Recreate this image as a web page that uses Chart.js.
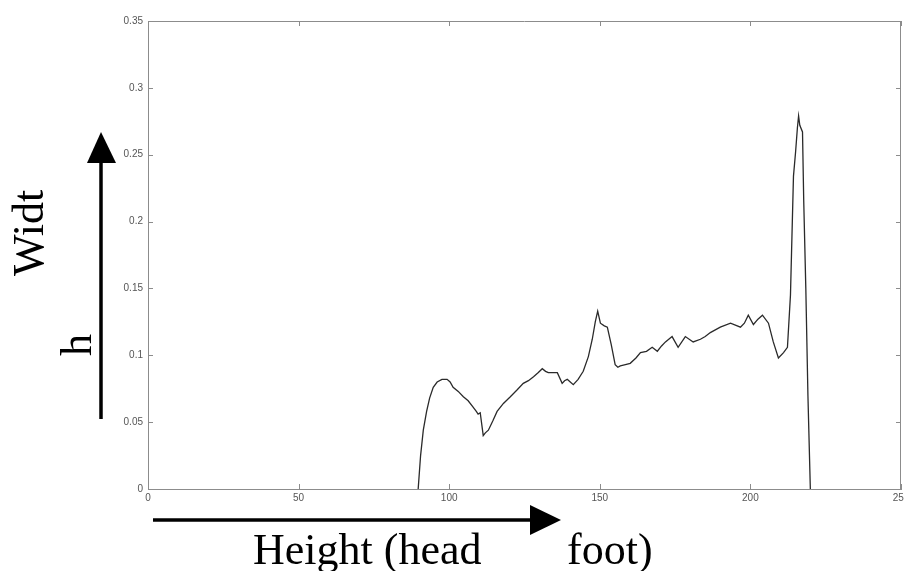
<!DOCTYPE html>
<html>
<head>
<meta charset="utf-8">
<script src="https://cdn.jsdelivr.net/npm/chart.js@4.4.0/dist/chart.umd.min.js"></script>
<style>
  html, body { margin: 0; padding: 0; background: #ffffff; }
  #wrap { width: 904px; height: 571px; position: relative; }
</style>
</head>
<body>
<div id="wrap"><canvas id="c" width="904" height="571"></canvas></div>
<script>
// ---- data ----
const positions = [89.7, 90.5, 91.4, 92.5, 93.5, 94.7, 96, 97.6, 99.3, 100.3, 101.3, 103, 104.7, 106.3, 108, 109, 109.6, 110.3, 111.3, 112, 113, 114.5, 115.9, 118, 120.3, 122.5, 124.6, 126.3, 128, 129.5, 130.9, 132, 132.9, 134.5, 135.9, 137.5, 138.3, 139.2, 140.2, 141.2, 142.8, 144.5, 146.2, 147.5, 148.5, 149.3, 150.2, 151.5, 152.5, 153.8, 155.1, 156, 156.8, 158.5, 160.1, 162, 163.5, 165.5, 167.4, 169.1, 170.5, 171.8, 174, 176, 178.4, 181, 183.4, 185, 186.7, 190, 193.4, 196.7, 198, 199.3, 201, 202.5, 204, 206, 207.6, 209.3, 211, 212.3, 213.3, 214.3, 215, 215.6, 216, 216.4, 217.3, 217.7, 218.4, 219.1, 219.9];
const widths = [0, 0.025, 0.044, 0.058, 0.068, 0.076, 0.080, 0.082, 0.082, 0.080, 0.076, 0.073, 0.069, 0.066, 0.061, 0.058, 0.056, 0.057, 0.040, 0.042, 0.044, 0.051, 0.058, 0.064, 0.069, 0.074, 0.079, 0.081, 0.084, 0.087, 0.090, 0.088, 0.087, 0.087, 0.087, 0.079, 0.081, 0.082, 0.080, 0.078, 0.082, 0.088, 0.099, 0.112, 0.125, 0.133, 0.124, 0.122, 0.121, 0.108, 0.093, 0.091, 0.092, 0.093, 0.094, 0.098, 0.102, 0.103, 0.106, 0.103, 0.107, 0.110, 0.114, 0.106, 0.114, 0.110, 0.112, 0.114, 0.117, 0.121, 0.124, 0.121, 0.124, 0.130, 0.123, 0.127, 0.130, 0.124, 0.110, 0.098, 0.102, 0.106, 0.145, 0.234, 0.252, 0.270, 0.279, 0.272, 0.267, 0.216, 0.150, 0.070, 0];
const xTickValues = [0, 50, 100, 150, 200, 250];
const xTickLabels = ['0', '50', '100', '150', '200', '250'];
const yTickValues = [0, 0.05, 0.1, 0.15, 0.2, 0.25, 0.3, 0.35];
const yTickLabels = ['0', '0.05', '0.1', '0.15', '0.2', '0.25', '0.3', '0.35'];
const yTitleParts = ['Widt', 'h'];
const xTitleParts = ['Height (head', 'foot)'];

const points = positions.map((x, i) => ({ x: x, y: widths[i] }));
const AXIS_COLOR = '#8c8c8c';

const matlabFrame = {
  id: 'matlabFrame',
  afterDatasetsDraw(chart) {
    const ctx = chart.ctx;
    const a = chart.chartArea;
    const xs = chart.scales.x, ys = chart.scales.y;
    ctx.save();
    // box top & right
    ctx.strokeStyle = AXIS_COLOR;
    ctx.lineWidth = 1;
    ctx.beginPath();
    ctx.moveTo(a.left, a.top + 0.5); ctx.lineTo(a.right, a.top + 0.5);
    ctx.moveTo(a.right - 0.5, a.top); ctx.lineTo(a.right - 0.5, a.bottom);
    ctx.stroke();
    // inward ticks
    const L = 5;
    ctx.beginPath();
    xTickValues.forEach(v => {
      const px = Math.round(xs.getPixelForValue(v)) + 0.5;
      ctx.moveTo(px, a.bottom); ctx.lineTo(px, a.bottom - L);
      ctx.moveTo(px, a.top); ctx.lineTo(px, a.top + L);
    });
    yTickValues.forEach(v => {
      const py = Math.round(ys.getPixelForValue(v)) + 0.5;
      ctx.moveTo(a.left, py); ctx.lineTo(a.left + L, py);
      ctx.moveTo(a.right, py); ctx.lineTo(a.right - L, py);
    });
    ctx.stroke();
    ctx.restore();
  },
  afterDraw(chart) {
    const ctx = chart.ctx;
    ctx.save();
    ctx.fillStyle = '#000';
    ctx.strokeStyle = '#000';
    // vertical arrow
    ctx.lineWidth = 3.5;
    ctx.beginPath(); ctx.moveTo(101, 419); ctx.lineTo(101, 158); ctx.stroke();
    ctx.beginPath(); ctx.moveTo(101, 132); ctx.lineTo(87, 163); ctx.lineTo(116, 163); ctx.closePath(); ctx.fill();
    // horizontal arrow
    ctx.beginPath(); ctx.moveTo(153, 520); ctx.lineTo(535, 520); ctx.stroke();
    ctx.beginPath(); ctx.moveTo(561, 520); ctx.lineTo(530, 505); ctx.lineTo(530, 535); ctx.closePath(); ctx.fill();
    // texts
    ctx.font = '44px "Liberation Serif", "Times New Roman", serif';
    ctx.textAlign = 'left';
    ctx.textBaseline = 'alphabetic';
    ctx.fillText(xTitleParts[0], 253, 564);
    ctx.fillText(xTitleParts[1], 567, 564);
    ctx.save(); ctx.translate(43, 276); ctx.rotate(-Math.PI / 2); ctx.fillText(yTitleParts[0], 0, 0); ctx.restore();
    ctx.save(); ctx.translate(91, 356); ctx.rotate(-Math.PI / 2); ctx.fillText(yTitleParts[1], 0, 0); ctx.restore();
    ctx.restore();
  }
};

new Chart(document.getElementById('c'), {
  type: 'line',
  data: {
    datasets: [{
      data: points,
      borderColor: '#2a2a2a',
      borderWidth: 1.3,
      pointRadius: 0,
      tension: 0,
      fill: false
    }]
  },
  options: {
    responsive: false,
    animation: false,
    events: [],
    layout: { padding: { left: 0, top: 21, right: 3, bottom: 0 } },
    plugins: { legend: { display: false }, tooltip: { enabled: false }, title: { display: false } },
    scales: {
      x: {
        type: 'linear',
        min: 0, max: 250,
        afterBuildTicks(scale) { scale.ticks = xTickValues.map(v => ({ value: v })); },
        afterFit(scale) { scale.height = 82; scale.paddingLeft = 0; scale.paddingRight = 0; },
        grid: { display: false, drawTicks: false },
        border: { display: true, color: AXIS_COLOR, width: 1 },
        ticks: {
          padding: 3,
          maxRotation: 0,
          autoSkip: false,
          color: '#555',
          font: { family: '"Liberation Sans", Arial, sans-serif', size: 10 },
          callback: (v) => { const i = xTickValues.indexOf(v); return i >= 0 ? xTickLabels[i] : ''; }
        }
      },
      y: {
        type: 'linear',
        min: 0, max: 0.35,
        afterBuildTicks(scale) { scale.ticks = yTickValues.map(v => ({ value: v })); },
        afterFit(scale) { scale.width = 148; scale.paddingTop = 0; scale.paddingBottom = 0; },
        grid: { display: false, drawTicks: false },
        border: { display: true, color: AXIS_COLOR, width: 1 },
        ticks: {
          padding: 5,
          autoSkip: false,
          color: '#555',
          font: { family: '"Liberation Sans", Arial, sans-serif', size: 10 },
          callback: (v) => { const i = yTickValues.findIndex(t => Math.abs(t - v) < 1e-9); return i >= 0 ? yTickLabels[i] : ''; }
        }
      }
    }
  },
  plugins: [matlabFrame]
});
</script>
</body>
</html>
